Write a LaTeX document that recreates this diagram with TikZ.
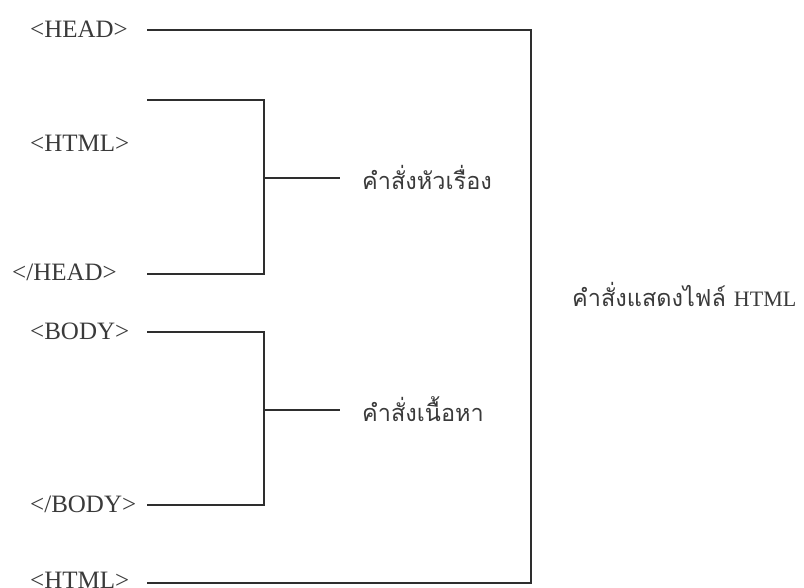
\documentclass[tikz,border=0pt]{standalone}
\usepackage{fontspec}
\setmainfont{Liberation Serif}
\newfontfamily\thaifont[Script=Thai]{Loma}
\definecolor{ink}{HTML}{2E2E2E}
\definecolor{txt}{HTML}{3A3A3A}
\begin{document}
\begin{tikzpicture}[x=1pt,y=-1pt,
  tag/.style={font=\fontsize{25}{29}\selectfont, text=txt, anchor=west, inner sep=0pt},
  thai/.style={font=\thaifont\fontsize{23.5}{27}\selectfont, text=txt, anchor=west, inner sep=0pt},
  wire/.style={draw=ink, line width=1.6pt}]
\useasboundingbox (0,0) rectangle (804,588);
% labels
\node[tag] (head)  at (30,29)  {<HEAD>};
\node[tag] (html)  at (30,143) {<HTML>};
\node[tag] (ehead) at (12,272) {</HEAD>};
\node[tag] (body)  at (30,331) {<BODY>};
\node[tag] (ebody) at (30,504) {</BODY>};
\node[tag] (html2) at (30,580) {<HTML>};
\node[thai] (t1) at (362,177) {คำสั่งหัวเรื่อง};
\node[thai] (t2) at (362,409) {คำสั่งเนื้อหา};
\node[thai] (t3) at (572,294) {คำสั่งแสดงไฟล์ {\fontspec{Liberation Serif}\fontsize{22}{26}\selectfont HTML}};
% coordinates
\coordinate (a1) at (147,30);  \coordinate (a2) at (531,30);
\coordinate (a3) at (531,583); \coordinate (a4) at (147,583);
\coordinate (b1) at (147,100); \coordinate (b2) at (264,100);
\coordinate (b3) at (264,274); \coordinate (b4) at (147,274);
\coordinate (bm) at (264,178); \coordinate (bt) at (340,178);
\coordinate (c1) at (147,332); \coordinate (c2) at (264,332);
\coordinate (c3) at (264,505); \coordinate (c4) at (147,505);
\coordinate (cm) at (264,410); \coordinate (ct) at (340,410);
% connectors
\draw[wire] (a1) -- (a2) -- (a3) -- (a4);
\draw[wire] (b1) -- (b2) -- (b3) -- (b4);
\draw[wire] (bm) -- (bt);
\draw[wire] (c1) -- (c2) -- (c3) -- (c4);
\draw[wire] (cm) -- (ct);
\end{tikzpicture}
\end{document}
